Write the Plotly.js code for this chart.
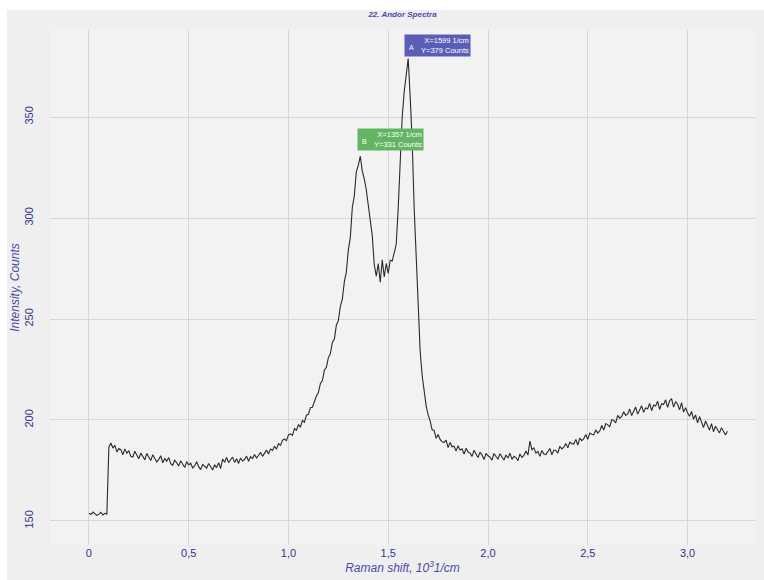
<!DOCTYPE html>
<html>
<head>
<meta charset="utf-8">
<script src="https://cdn.plot.ly/plotly-3.0.1.min.js"></script>
<style>html,body{margin:0;padding:0;background:#fff;}#chart{width:764px;height:580px;}</style>
</head>
<body>
<div id="chart"></div>
<script>
// Raman shift starts at 0 (10^3 1/cm), spacing 0.01
var shiftStart = 0;
var shiftStep = 0.01;
var intensity = [
153.9,153.2,154.4,153.6,152.8,153.4,154.3,153.0,153.8,153.5,
186.5,188.6,186.1,187.4,184.2,185.9,185.3,182.8,185.7,183.6,
184.8,182.0,181.7,184.5,182.9,180.8,183.6,182.2,180.3,183.4,
181.6,179.9,182.8,181.0,179.2,180.5,182.3,178.8,180.9,179.6,
181.4,178.4,177.6,180.2,179.0,177.3,179.8,178.1,176.5,179.4,
177.8,178.6,176.2,177.4,179.3,176.9,175.4,178.0,177.2,176.1,
178.5,176.7,175.2,177.8,176.4,178.9,176.0,180.6,179.1,181.4,
178.9,180.3,181.6,179.0,180.8,178.5,181.2,179.7,180.4,182.1,
179.6,181.8,180.9,182.9,181.2,182.4,184.0,182.0,183.6,185.1,
183.2,185.6,184.9,186.9,185.7,188.3,187.4,189.9,190.6,189.8,
192.6,193.1,192.4,195.8,194.9,197.6,196.6,199.8,198.9,202.4,
202.8,206.1,206.3,209.2,211.9,213.6,218.1,219.4,224.6,226.1,
230.9,232.8,238.4,240.1,246.9,249.2,256.3,259.8,268.4,273.2,
284.1,290.4,305.2,311.0,322.9,326.1,330.6,323.2,319.4,314.0,
306.2,296.5,291.3,277.0,271.2,277.4,268.2,279.3,270.8,277.5,
272.6,279.1,278.7,282.8,287.0,305.0,327.0,350.0,362.5,372.0,
379.0,360.0,338.0,305.0,278.0,252.0,234.0,222.0,213.5,207.0,
202.5,199.6,195.1,194.8,190.9,192.8,190.4,189.2,188.9,190.0,
186.3,188.9,186.7,187.0,184.6,187.3,185.2,185.7,183.1,186.0,
184.1,183.6,182.0,185.0,183.2,181.4,184.1,182.6,180.4,183.5,
182.3,181.6,180.1,183.4,181.9,180.7,183.3,181.8,180.2,182.7,
181.2,183.6,180.5,182.0,181.4,179.9,183.2,181.5,182.4,184.6,
182.6,189.5,185.3,186.2,183.6,184.4,182.0,184.9,183.1,182.9,
184.2,185.9,182.8,185.1,184.9,183.6,187.0,185.7,186.6,188.4,
186.2,189.0,188.3,188.1,190.4,187.6,191.0,189.8,190.7,192.8,
190.4,193.5,192.9,192.6,195.1,193.5,194.6,197.3,195.0,198.2,
197.6,196.7,200.1,199.8,198.6,202.3,200.9,201.8,204.1,202.3,
203.0,205.4,202.2,204.6,206.4,202.9,205.1,207.0,203.8,206.0,
205.6,208.2,204.6,207.4,206.9,209.3,205.2,208.1,207.7,210.0,
206.2,209.4,210.6,206.4,209.1,207.8,205.0,208.6,203.9,206.1,
203.6,201.8,204.2,200.4,202.5,198.6,201.7,199.4,196.2,199.5,
196.8,195.0,198.2,194.2,196.9,195.5,193.6,196.2,194.5,192.6,
194.4
];
var xTickVals = [0, 0.5, 1.0, 1.5, 2.0, 2.5, 3.0];
var xTickText = ["0", "0,5", "1,0", "1,5", "2,0", "2,5", "3,0"];
var yTickVals = [150, 200, 250, 300, 350];
var peakA = {x: 1.599, y: 379, label: "A", text: "X=1599 1/cm<br>Y=379 Counts"};
var peakB = {x: 1.357, y: 331, label: "B", text: "X=1357 1/cm<br>Y=331 Counts"};

var tickColor = '#33338a';
var titleColor = '#4a4aa6';

var trace = {
  type: 'scatter', mode: 'lines',
  x0: shiftStart, dx: shiftStep, y: intensity,
  line: {color: '#2a2a2a', width: 1.1},
  hoverinfo: 'x+y'
};

function boxAnn(p, color, xs, ys) {
  return [{
    x: p.x, y: p.y, xref: 'x', yref: 'y', showarrow: false,
    xanchor: 'left', yanchor: 'bottom', xshift: xs, yshift: ys,
    text: p.text, align: 'right', width: 63, height: 19,
    bgcolor: color, borderpad: 1,
    font: {family: 'Liberation Sans Narrow, Liberation Sans, Arial', size: 7.5, color: '#ffffff'}
  }, {
    x: p.x, y: p.y, xref: 'x', yref: 'y', showarrow: false,
    xanchor: 'left', yanchor: 'middle', xshift: xs + 3, yshift: ys + 10,
    text: p.label,
    font: {family: 'Liberation Sans, Arial', size: 7, color: '#ffffff'}
  }];
}

var layout = {
  width: 764, height: 580,
  margin: {l: 50, r: 9, t: 30, b: 35},
  paper_bgcolor: '#efefef',
  plot_bgcolor: '#f2f2f2',
  showlegend: false,
  title: {
    text: '<b><i>22. Andor Spectra</i></b>',
    x: 0.5, xref: 'paper', y: 0.975, yanchor: 'middle',
    font: {family: 'Liberation Sans, Arial', size: 8, color: titleColor}
  },
  xaxis: {
    range: [-0.195, 3.338],
    tickvals: xTickVals, ticktext: xTickText,
    showgrid: true, gridcolor: '#d6d6d6', gridwidth: 1,
    zeroline: false, showline: false, ticks: '',
    tickfont: {family: 'Liberation Sans Narrow, Liberation Sans, Arial', size: 11, color: tickColor},
    title: {text: '<i>Raman shift, 10<sup>3</sup>1/cm</i>', standoff: 2,
      font: {family: 'Liberation Sans, Arial', size: 12, color: titleColor}}
  },
  yaxis: {
    range: [138.1, 393.1],
    tickvals: yTickVals,
    tickangle: -90,
    showgrid: true, gridcolor: '#d6d6d6', gridwidth: 1,
    zeroline: false, showline: false, ticks: '',
    ticklabelstandoff: 14,
    tickfont: {family: 'Liberation Sans Narrow, Liberation Sans, Arial', size: 11, color: tickColor},
    title: {text: '<i>Intensity, Counts</i>', standoff: 0,
      font: {family: 'Liberation Sans, Arial', size: 12, color: titleColor}}
  },
  shapes: [
    {type: 'rect', xref: 'paper', yref: 'paper', x0: -0.08, x1: -0.061, y0: -0.1, y1: 1.1,
     fillcolor: '#ffffff', line: {width: 0}, layer: 'below'},
    {type: 'rect', xref: 'paper', yref: 'paper', x0: -0.08, x1: 1.02, y0: 1.0388, y1: 1.1,
     fillcolor: '#ffffff', line: {width: 0}, layer: 'below'}
  ],
  annotations: [].concat(boxAnn(peakA, '#5a5db6', -4, 1), boxAnn(peakB, '#62b562', -3, 4))
};

Plotly.newPlot('chart', [trace], layout, {displayModeBar: false, staticPlot: true});
</script>
</body>
</html>
